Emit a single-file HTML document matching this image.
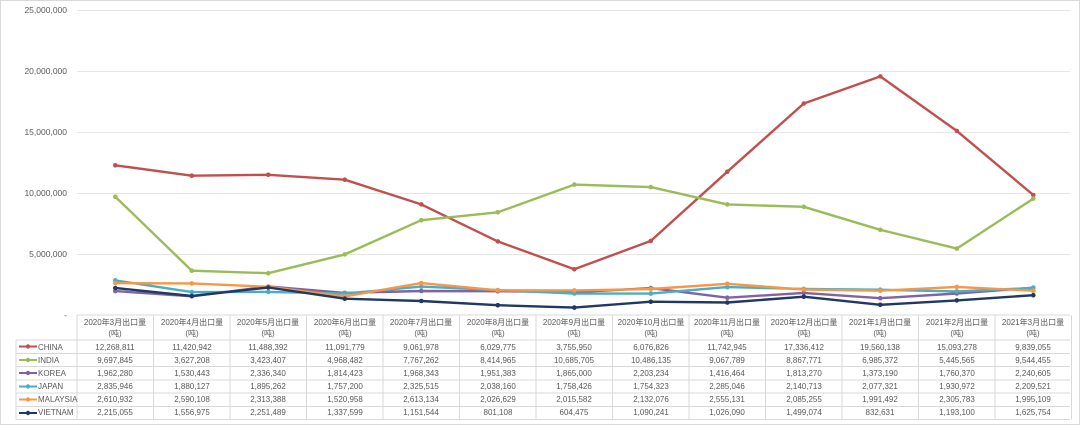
<!DOCTYPE html>
<html><head><meta charset="utf-8"><style>
html,body{margin:0;padding:0;background:#fff}
svg{display:block}
text{font-family:"Liberation Sans","Noto Sans CJK SC",sans-serif;fill:#595959}
</style></head><body>
<svg id="s" width="1080" height="425" viewBox="0 0 1080 425">
<rect x="0.5" y="0.5" width="1079" height="424" fill="#fff" stroke="#d9d9d9"/>
<g stroke="#e6e6e6" stroke-width="1">
<line x1="77" x2="1070" y1="10.5" y2="10.5"/><line x1="77" x2="1070" y1="71.5" y2="71.5"/>
<line x1="77" x2="1070" y1="132.5" y2="132.5"/><line x1="77" x2="1070" y1="193.5" y2="193.5"/>
<line x1="77" x2="1070" y1="254.5" y2="254.5"/>
</g>
<g font-size="8.5" text-anchor="end">
<text x="67" y="13">25,000,000</text><text x="67" y="74">20,000,000</text>
<text x="67" y="135">15,000,000</text><text x="67" y="196">10,000,000</text>
<text x="67" y="257">5,000,000</text><text x="67" y="318">-</text>
</g>
<g id="grid" stroke="#d9d9d9" stroke-width="1" fill="none"></g>
<g id="lines"></g>
<g font-size="8" text-anchor="middle">
<text x="115" y="325">2020年3月出口量</text><text x="115" y="336">(吨)</text>
<text x="192" y="325">2020年4月出口量</text><text x="192" y="336">(吨)</text>
<text x="268" y="325">2020年5月出口量</text><text x="268" y="336">(吨)</text>
<text x="345" y="325">2020年6月出口量</text><text x="345" y="336">(吨)</text>
<text x="421" y="325">2020年7月出口量</text><text x="421" y="336">(吨)</text>
<text x="498" y="325">2020年8月出口量</text><text x="498" y="336">(吨)</text>
<text x="574" y="325">2020年9月出口量</text><text x="574" y="336">(吨)</text>
<text x="651" y="325">2020年10月出口量</text><text x="651" y="336">(吨)</text>
<text x="727" y="325">2020年11月出口量</text><text x="727" y="336">(吨)</text>
<text x="804" y="325">2020年12月出口量</text><text x="804" y="336">(吨)</text>
<text x="880" y="325">2021年1月出口量</text><text x="880" y="336">(吨)</text>
<text x="957" y="325">2021年2月出口量</text><text x="957" y="336">(吨)</text>
<text x="1033" y="325">2021年3月出口量</text><text x="1033" y="336">(吨)</text>
</g>
<g font-size="8" text-anchor="middle" id="vals">
<text y="350"><tspan x="115">12,268,811</tspan><tspan x="192">11,420,942</tspan><tspan x="268">11,488,392</tspan><tspan x="345">11,091,779</tspan><tspan x="421">9,061,978</tspan><tspan x="498">6,029,775</tspan><tspan x="574">3,755,950</tspan><tspan x="651">6,076,826</tspan><tspan x="727">11,742,945</tspan><tspan x="804">17,336,412</tspan><tspan x="880">19,560,138</tspan><tspan x="957">15,093,278</tspan><tspan x="1033">9,839,055</tspan></text>
<text y="363"><tspan x="115">9,697,845</tspan><tspan x="192">3,627,208</tspan><tspan x="268">3,423,407</tspan><tspan x="345">4,968,482</tspan><tspan x="421">7,767,262</tspan><tspan x="498">8,414,965</tspan><tspan x="574">10,685,705</tspan><tspan x="651">10,486,135</tspan><tspan x="727">9,067,789</tspan><tspan x="804">8,867,771</tspan><tspan x="880">6,985,372</tspan><tspan x="957">5,445,565</tspan><tspan x="1033">9,544,455</tspan></text>
<text y="376"><tspan x="115">1,962,280</tspan><tspan x="192">1,530,443</tspan><tspan x="268">2,336,340</tspan><tspan x="345">1,814,423</tspan><tspan x="421">1,968,343</tspan><tspan x="498">1,951,383</tspan><tspan x="574">1,865,000</tspan><tspan x="651">2,203,234</tspan><tspan x="727">1,416,464</tspan><tspan x="804">1,813,270</tspan><tspan x="880">1,373,190</tspan><tspan x="957">1,760,370</tspan><tspan x="1033">2,240,605</tspan></text>
<text y="389"><tspan x="115">2,835,946</tspan><tspan x="192">1,880,127</tspan><tspan x="268">1,895,262</tspan><tspan x="345">1,757,200</tspan><tspan x="421">2,325,515</tspan><tspan x="498">2,038,160</tspan><tspan x="574">1,758,426</tspan><tspan x="651">1,754,323</tspan><tspan x="727">2,285,046</tspan><tspan x="804">2,140,713</tspan><tspan x="880">2,077,321</tspan><tspan x="957">1,930,972</tspan><tspan x="1033">2,209,521</tspan></text>
<text y="402"><tspan x="115">2,610,932</tspan><tspan x="192">2,590,108</tspan><tspan x="268">2,313,388</tspan><tspan x="345">1,520,958</tspan><tspan x="421">2,613,134</tspan><tspan x="498">2,026,629</tspan><tspan x="574">2,015,582</tspan><tspan x="651">2,132,076</tspan><tspan x="727">2,555,131</tspan><tspan x="804">2,085,255</tspan><tspan x="880">1,991,492</tspan><tspan x="957">2,305,783</tspan><tspan x="1033">1,995,109</tspan></text>
<text y="415"><tspan x="115">2,215,055</tspan><tspan x="192">1,556,975</tspan><tspan x="268">2,251,489</tspan><tspan x="345">1,337,599</tspan><tspan x="421">1,151,544</tspan><tspan x="498">801,108</tspan><tspan x="574">604,475</tspan><tspan x="651">1,090,241</tspan><tspan x="727">1,026,090</tspan><tspan x="804">1,499,074</tspan><tspan x="880">832,631</tspan><tspan x="957">1,193,100</tspan><tspan x="1033">1,625,754</tspan></text>
</g>
<g font-size="8">
<text x="38" y="350">CHINA</text><text x="38" y="363">INDIA</text><text x="38" y="376">KOREA</text>
<text x="38" y="389">JAPAN</text><text x="38" y="402">MALAYSIA</text><text x="38" y="415">VIETNAM</text>
</g>
</svg>
<script>
var d=[
["#c0504d",[12268811,11420942,11488392,11091779,9061978,6029775,3755950,6076826,11742945,17336412,19560138,15093278,9839055]],
["#9bbb59",[9697845,3627208,3423407,4968482,7767262,8414965,10685705,10486135,9067789,8867771,6985372,5445565,9544455]],
["#8064a2",[1962280,1530443,2336340,1814423,1968343,1951383,1865000,2203234,1416464,1813270,1373190,1760370,2240605]],
["#4bacc6",[2835946,1880127,1895262,1757200,2325515,2038160,1758426,1754323,2285046,2140713,2077321,1930972,2209521]],
["#f79646",[2610932,2590108,2313388,1520958,2613134,2026629,2015582,2132076,2555131,2085255,1991492,2305783,1995109]],
["#1f3864",[2215055,1556975,2251489,1337599,1151544,801108,604475,1090241,1026090,1499074,832631,1193100,1625754]]];
var NS="http://www.w3.org/2000/svg",L=document.getElementById("lines"),G=document.getElementById("grid");
function el(t,a,p){var e=document.createElementNS(NS,t);for(var k in a)e.setAttribute(k,a[k]);p.appendChild(e);return e;}
var ys=[315,340,353.5,366.5,380,393,406.5,419.5];
ys.forEach(function(y,i){el("line",{x1:i==0?77:16,x2:1070,y1:y,y2:y},G);});
for(var i=0;i<=13;i++){var x=77+76.5*i;el("line",{x1:x,x2:x,y1:315,y2:419.5},G);}
el("line",{x1:16,x2:16,y1:340,y2:419.5},G);
d.forEach(function(s,j){
 var pts=s[1].map(function(v,i){return (115.25+76.5*i).toFixed(1)+","+(315-v*305/25e6).toFixed(1);});
 el("polyline",{points:pts.join(" "),fill:"none",stroke:s[0],"stroke-width":2.4,"stroke-linejoin":"round"},L);
 pts.forEach(function(p){var q=p.split(",");el("circle",{cx:q[0],cy:q[1],r:2.3,fill:s[0]},L);});
 var y=ys[j+1]+6.5;
 el("line",{x1:19,x2:37,y1:y,y2:y,stroke:s[0],"stroke-width":2},L);
 el("circle",{cx:28,cy:y,r:2.2,fill:s[0]},L);
});
</script>
</body></html>
